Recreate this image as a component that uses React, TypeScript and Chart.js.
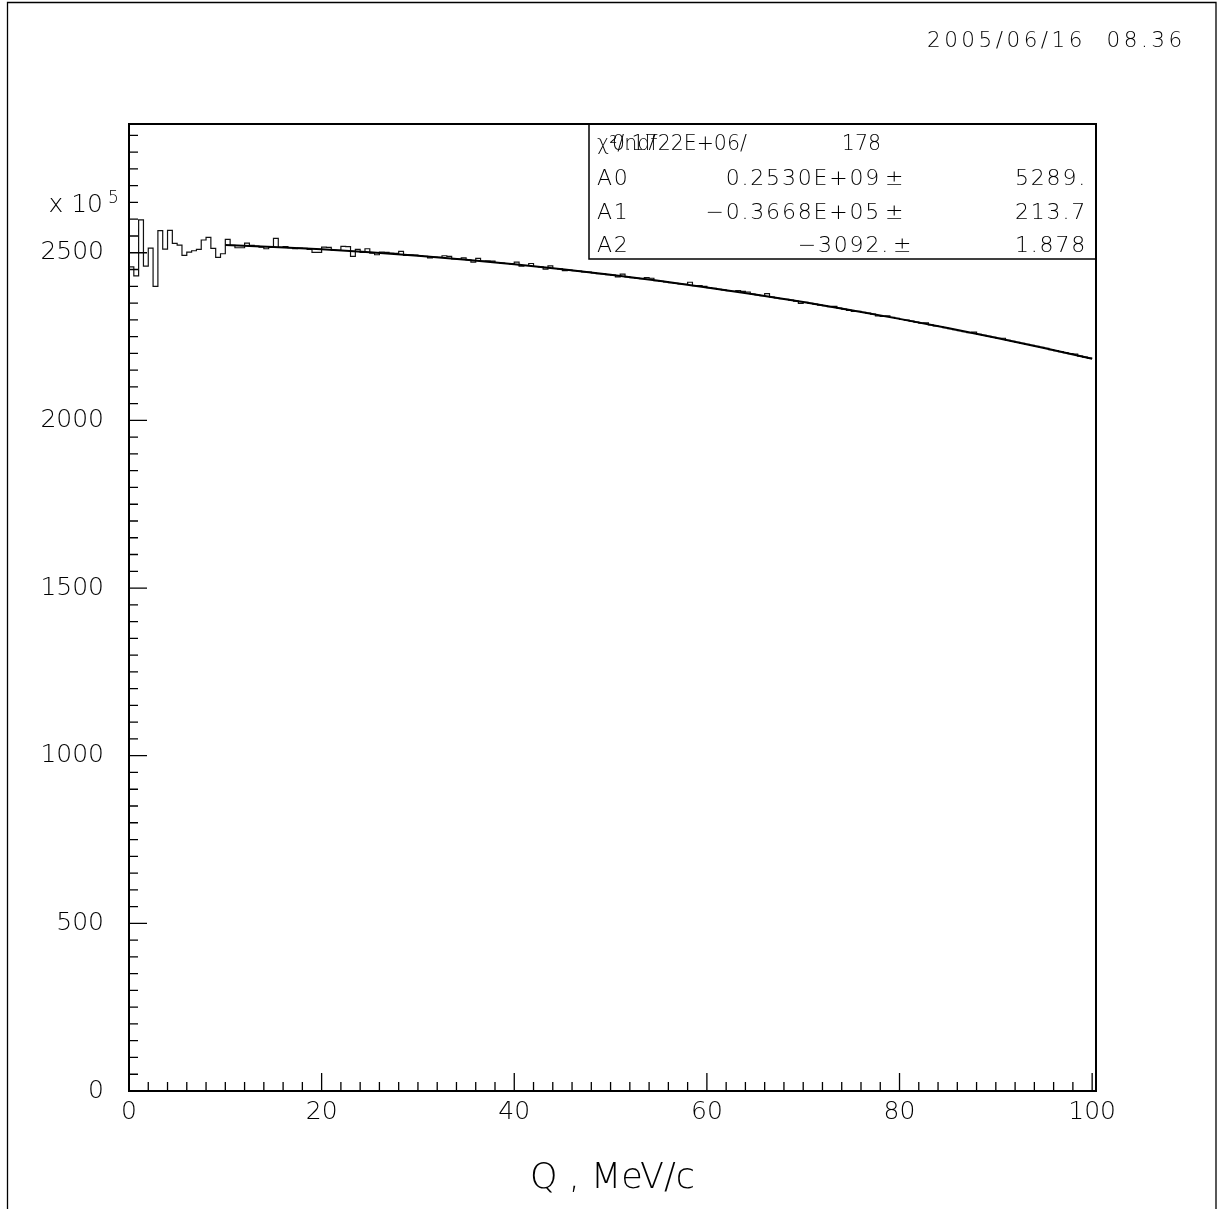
import { useEffect, useRef } from "react";
import { Chart, registerables } from "chart.js";

Chart.register(...registerables);

const W = 1218;
const H = 1209;
const FONT = "DejaVu Sans";
const WEIGHT = 200;

// ---- data (values in units of 10^5) ----
const BIN_WIDTH = 0.5;
const HIST_VALUES = [
  2458, 2431, 2598, 2460, 2514, 2400, 2566, 2511, 2567, 2528,
  2523, 2492, 2502, 2506, 2510, 2538, 2546, 2513, 2486, 2497,
  2540, 2522, 2515, 2515, 2529, 2522, 2520, 2517, 2512, 2516,
  2543, 2516, 2518, 2515, 2512, 2514, 2513, 2510, 2501, 2501,
  2517, 2516, 2508, 2507, 2519, 2518, 2489, 2510, 2501, 2512,
  2499, 2494, 2502, 2501, 2499, 2498, 2504, 2492, 2494, 2493,
  2491, 2489, 2485, 2487, 2486, 2491, 2489, 2482, 2481, 2485,
  2479, 2472, 2483, 2475, 2476, 2475, 2471, 2469, 2468, 2467,
  2472, 2460, 2462, 2468, 2459, 2458, 2451, 2461, 2453, 2452,
  2447, 2448, 2447, 2445, 2443, 2442, 2440, 2438, 2437, 2435,
  2433, 2428, 2436, 2428, 2426, 2424, 2423, 2426, 2424, 2417,
  2415, 2413, 2411, 2409, 2407, 2406, 2412, 2402, 2402, 2400,
  2396, 2394, 2391, 2389, 2387, 2385, 2387, 2385, 2383, 2377,
  2374, 2372, 2378, 2368, 2365, 2363, 2361, 2359, 2356, 2349,
  2352, 2349, 2347, 2344, 2342, 2339, 2340, 2335, 2332, 2328,
  2325, 2325, 2322, 2320, 2317, 2312, 2310, 2312, 2307, 2304,
  2301, 2299, 2296, 2293, 2290, 2291, 2285, 2282, 2280, 2277,
  2274, 2271, 2268, 2265, 2262, 2263, 2257, 2254, 2251, 2248,
  2245, 2245, 2239, 2236, 2233, 2230, 2227, 2224, 2221, 2218,
  2215, 2211, 2208, 2205, 2202, 2199, 2198, 2192, 2189, 2186,
];
const FIT_Q = [10, 15, 20, 25, 30, 35, 40, 45, 50, 55, 60, 65, 70, 75, 80, 85, 90, 95, 100];
const FIT_VALUES = [
  2523.2, 2517.5, 2510.3, 2501.5, 2491.2, 2479.3, 2465.9, 2450.9, 2434.4, 2416.3,
  2396.7, 2375.5, 2352.8, 2328.6, 2302.8, 2275.4, 2246.5, 2216.1, 2184.1,
];
const X_TICKS = [0, 20, 40, 60, 80, 100];
const X_MINOR = 2;
const Y_TICKS = [0, 500, 1000, 1500, 2000, 2500];
const Y_MINOR = 50;
const X_MAX = 100.4;
const Y_MAX = 2884;

const X_TITLE = "Q , MeV/c";
const DATE_TEXT = "2005/06/16  08.36";
const Y_MULT = "x 10";
const Y_EXP = "5";
const CHI2_LABEL = "χ²/ndf";
const CHI2_VALUE = "0.1722E+06/";
const CHI2_NDF = "178";
const PAR_NAMES = ["A0", "A1", "A2"];
const PAR_VALUES = ["0.2530E+09", "−0.3668E+05", "−3092."];
const PAR_ERRORS = ["5289.", "213.7", "1.878"];

const font = (size: number) => `${WEIGHT} ${size}px "${FONT}"`;

const pawPlugin = {
  id: "pawDecor",
  afterDraw(chart: any) {
    const ctx: CanvasRenderingContext2D = chart.ctx;
    const { left, right, top, bottom } = chart.chartArea;
    const xs = chart.scales.x;
    const ys = chart.scales.y;
    ctx.save();
    ctx.strokeStyle = "#000";
    ctx.fillStyle = "#000";

    // outer page frame
    ctx.lineWidth = 1.3;
    ctx.beginPath();
    ctx.moveTo(7.5, H);
    ctx.lineTo(7.5, 2.5);
    ctx.lineTo(1216, 2.5);
    ctx.lineTo(1216, H);
    ctx.stroke();

    // plot frame
    ctx.lineWidth = 2;
    ctx.strokeRect(left, top, right - left, bottom - top);

    // x ticks (inward)
    ctx.lineWidth = 1.3;
    ctx.beginPath();
    for (let k = 1; k * X_MINOR <= X_MAX; k++) {
      const v = k * X_MINOR;
      const len = X_TICKS.includes(v) ? 18 : 9;
      const px = xs.getPixelForValue(v);
      ctx.moveTo(px, bottom);
      ctx.lineTo(px, bottom - len);
    }
    // y ticks (inward)
    for (let k = 1; k * Y_MINOR <= Y_MAX; k++) {
      const v = k * Y_MINOR;
      const len = Y_TICKS.includes(v) ? 18 : 9;
      const py = ys.getPixelForValue(v);
      ctx.moveTo(left, py);
      ctx.lineTo(left + len, py);
    }
    ctx.stroke();

    // date
    ctx.textBaseline = "alphabetic";
    ctx.textAlign = "left";
    (ctx as any).letterSpacing = "3.5px";
    ctx.font = font(21.5);
    ctx.fillText(DATE_TEXT, 927, 47);

    // exponent label
    (ctx as any).letterSpacing = "0px";
    ctx.font = font(25);
    ctx.textAlign = "right";
    ctx.fillText(Y_MULT, 103, 212);
    ctx.textAlign = "left";
    ctx.font = font(17);
    ctx.fillText(Y_EXP, 108, 203);

    // stats box
    const bx0 = 589, by1 = 259;
    ctx.lineWidth = 1.5;
    ctx.strokeRect(bx0, top, right - bx0, by1 - top);

    ctx.font = font(20.5);
    ctx.textAlign = "left";
    ctx.fillText(CHI2_LABEL, 597, 150);
    ctx.fillText(CHI2_VALUE, 612, 150);
    ctx.textAlign = "right";
    ctx.fillText(CHI2_NDF, 881, 150);

    ctx.font = font(22);
    (ctx as any).letterSpacing = "1.8px";
    const baselines = [185, 219, 252];
    const valueRight = [881, 881, 890];
    const pmLeft = [885, 885, 893];
    PAR_NAMES.forEach((name, i) => {
      const yb = baselines[i];
      ctx.textAlign = "left";
      ctx.fillText(name, 597, yb);
      ctx.textAlign = "right";
      ctx.fillText(PAR_VALUES[i], valueRight[i], yb);
      ctx.textAlign = "left";
      ctx.fillText("±", pmLeft[i], yb);
      ctx.textAlign = "right";
      ctx.fillText(PAR_ERRORS[i], 1087, yb);
    });
    ctx.restore();
  },
};

export default function App() {
  const ref = useRef<HTMLCanvasElement | null>(null);

  useEffect(() => {
    if (!ref.current) return;
    const histPoints = HIST_VALUES.map((v, i) => ({ x: i * BIN_WIDTH, y: v }));
    histPoints.push({ x: HIST_VALUES.length * BIN_WIDTH, y: HIST_VALUES[HIST_VALUES.length - 1] });
    const fitPoints = FIT_Q.map((q, i) => ({ x: q, y: FIT_VALUES[i] }));

    const tickFont = { family: FONT, size: 25, weight: WEIGHT as any };
    const chart = new Chart(ref.current, {
      type: "line",
      data: {
        datasets: [
          {
            label: "fit",
            data: fitPoints,
            borderColor: "#000",
            borderWidth: 2,
            pointRadius: 0,
            tension: 0,
            fill: false,
          },
          {
            label: "histogram",
            data: histPoints,
            borderColor: "#111",
            borderWidth: 1.2,
            pointRadius: 0,
            stepped: "before",
            fill: false,
          },
        ],
      },
      options: {
        responsive: false,
        animation: false,
        devicePixelRatio: 1,
        events: [],
        layout: { padding: { left: 0, right: W - 1096, top: 124, bottom: 0 } },
        plugins: { legend: { display: false }, tooltip: { enabled: false }, title: { display: false } },
        scales: {
          x: {
            type: "linear",
            min: 0,
            max: X_MAX,
            grid: { display: false, drawTicks: false },
            border: { display: false },
            afterBuildTicks: (s: any) => {
              s.ticks = X_TICKS.map((v) => ({ value: v }));
            },
            afterFit: (s: any) => {
              s.height = H - 1091;
            },
            ticks: {
              color: "#000",
              font: tickFont,
              padding: 6,
              maxRotation: 0,
              autoSkip: false,
              callback: (v: any) => String(v),
            },
            title: {
              display: true,
              text: X_TITLE,
              color: "#000",
              font: { family: FONT, size: 35, weight: WEIGHT as any },
              padding: { top: 0, bottom: 9 },
            },
          },
          y: {
            type: "linear",
            min: 0,
            max: Y_MAX,
            grid: { display: false, drawTicks: false },
            border: { display: false },
            afterBuildTicks: (s: any) => {
              s.ticks = Y_TICKS.map((v) => ({ value: v }));
            },
            afterFit: (s: any) => {
              s.width = 129;
            },
            ticks: {
              color: "#000",
              font: tickFont,
              padding: 25,
              autoSkip: false,
              callback: (v: any) => String(v),
            },
          },
        },
      },
      plugins: [pawPlugin],
    });
    return () => chart.destroy();
  }, []);

  return (
    <div style={{ position: "absolute", left: 0, top: 0, width: W, height: H, background: "#fff" }}>
      <canvas ref={ref} width={W} height={H} style={{ display: "block", width: W, height: H }} />
    </div>
  );
}
